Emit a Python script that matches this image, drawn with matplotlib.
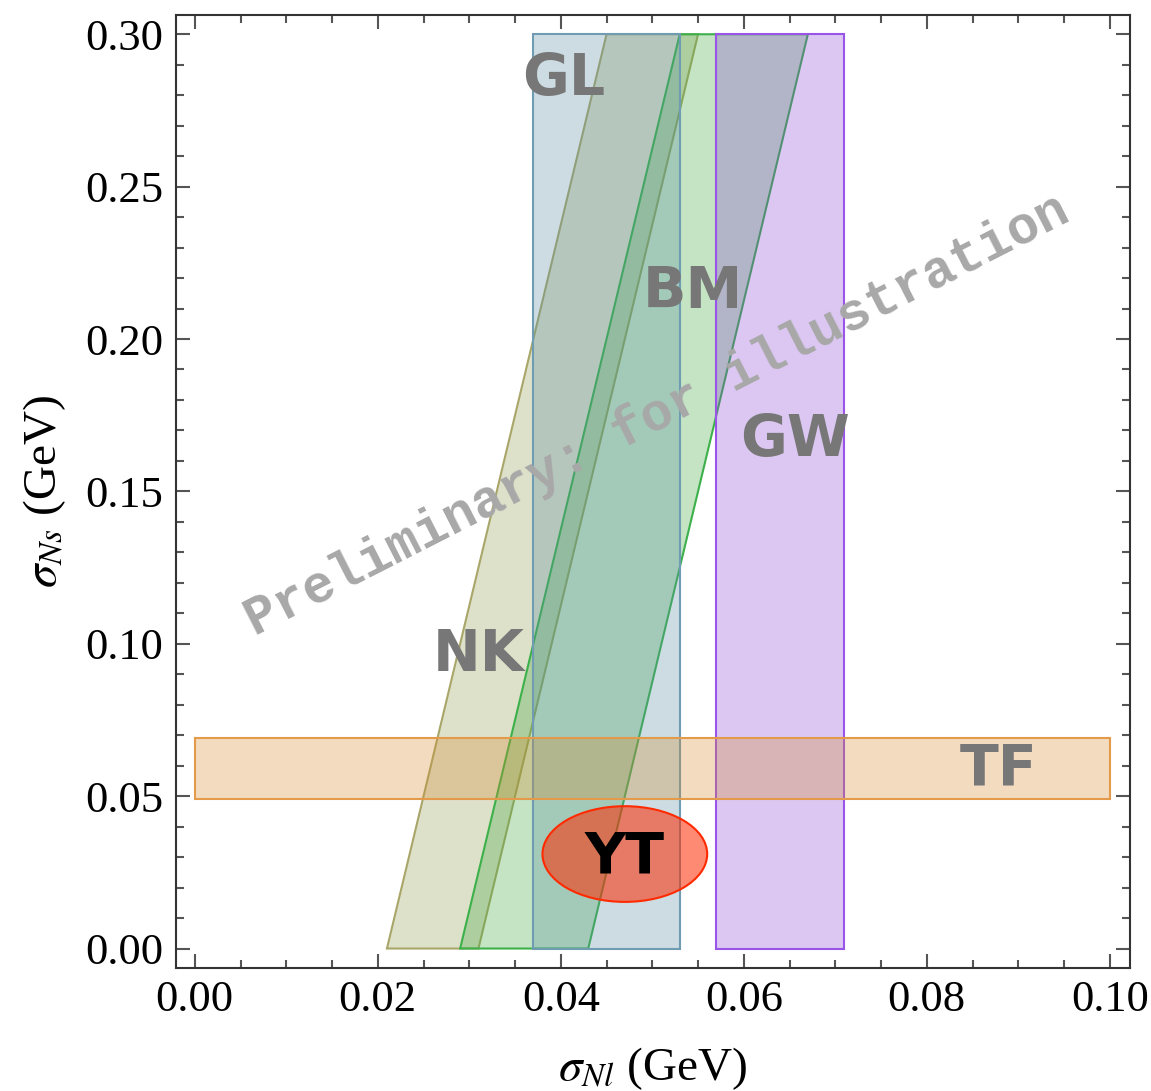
import numpy as np
import matplotlib
matplotlib.use("Agg")
import matplotlib.pyplot as plt
from matplotlib.patches import Polygon, Rectangle, Ellipse
from matplotlib.ticker import MultipleLocator

plt.rcParams['font.family'] = 'serif'
plt.rcParams['font.serif'] = ['Liberation Serif', 'DejaVu Serif']
plt.rcParams['mathtext.fontset'] = 'stix'

# band limits (GeV)
y_range = [0.0, 0.30]
nk_bottom = [0.021, 0.031]
nk_top = [0.045, 0.055]
bm_bottom = [0.029, 0.043]
bm_top = [0.053, 0.067]
gl_x = [0.037, 0.053]
gw_x = [0.057, 0.071]
tf_x = [0.0, 0.10]
tf_y = [0.049, 0.069]
yt_center = [0.047, 0.031]
yt_width = [0.018, 0.0314]

labels = ['GL', 'BM', 'GW', 'NK', 'TF', 'YT']
label_x = [0.0403, 0.0544, 0.0656, 0.031, 0.0878, 0.047]
label_y = [0.285, 0.2154, 0.1666, 0.0963, 0.0586, 0.0297]

fig = plt.figure()
fig.set_size_inches(11.51, 10.91)
ax1 = fig.add_axes([0.1527, 0.113, 0.829, 0.8732])

def slanted(bottom, top):
    return [[bottom[0], y_range[0]], [bottom[1], y_range[0]],
            [top[1], y_range[1]], [top[0], y_range[1]]]

# NK
ax1.add_patch(Polygon(slanted(nk_bottom, nk_top), closed=True,
                      facecolor=(0.58, 0.61, 0.32, 0.3), edgecolor='#a9a66a', lw=1.5))
# BM
ax1.add_patch(Polygon(slanted(bm_bottom, bm_top), closed=True,
                      facecolor=(0.24, 0.66, 0.24, 0.3), edgecolor='#3cb04a', lw=1.5))
# GL
ax1.add_patch(Rectangle((gl_x[0], y_range[0]), gl_x[1]-gl_x[0], y_range[1]-y_range[0],
                        facecolor=(0.345, 0.557, 0.635, 0.3), edgecolor='#6f9cb2', lw=1.5))
# GW
ax1.add_patch(Rectangle((gw_x[0], y_range[0]), gw_x[1]-gw_x[0], y_range[1]-y_range[0],
                        facecolor=(0.54, 0.28, 0.83, 0.3), edgecolor='#9a55e8', lw=1.5))
# TF
ax1.add_patch(Rectangle((tf_x[0], tf_y[0]), tf_x[1]-tf_x[0], tf_y[1]-tf_y[0],
                        facecolor=(0.83, 0.54, 0.18, 0.3), edgecolor='#e39a4a', lw=1.5))
# YT
ax1.add_patch(Ellipse(yt_center, yt_width[0], yt_width[1],
                      facecolor=(1.0, 0.165, 0.0, 0.55), edgecolor='#ff2a00', lw=1.5))

for i in range(len(labels)):
    col = 'black' if labels[i] == 'YT' else '#777777'
    ax1.text(label_x[i], label_y[i], labels[i], fontsize=41, fontweight='bold',
             family='DejaVu Sans', color=col, ha='center', va='center', zorder=5)

ax1.text(0.0505, 0.175, 'Preliminary: for illustration', fontsize=38, fontweight='bold',
         family='Liberation Mono', color='#a8a8a8', rotation=27.0,
         ha='center', va='center', zorder=6)

ax1.set_xlim(-0.00208, 0.1022)
ax1.set_ylim(-0.0063, 0.3063)
ax1.xaxis.set_major_locator(MultipleLocator(0.02))
ax1.xaxis.set_minor_locator(MultipleLocator(0.005))
ax1.yaxis.set_major_locator(MultipleLocator(0.05))
ax1.yaxis.set_minor_locator(MultipleLocator(0.01))
ax1.xaxis.set_major_formatter(matplotlib.ticker.FormatStrFormatter('%.2f'))
ax1.yaxis.set_major_formatter(matplotlib.ticker.FormatStrFormatter('%.2f'))

ax1.tick_params(which='both', direction='in', top=True, right=True, color='#555555', width=1.5)
ax1.tick_params(which='major', length=10, labelsize=32, pad=9)
ax1.tick_params(which='minor', length=6)
for axis in ['top', 'bottom', 'left', 'right']:
    ax1.spines[axis].set_linewidth(1.5)
    ax1.spines[axis].set_color('#333333')

ax1.set_xlabel(r'$\sigma_{Nl}$ (GeV)', fontsize=34, labelpad=18)
ax1.set_ylabel(r'$\sigma_{Ns}$ (GeV)', fontsize=34, labelpad=12)

fig.savefig('out.png', dpi=100)
